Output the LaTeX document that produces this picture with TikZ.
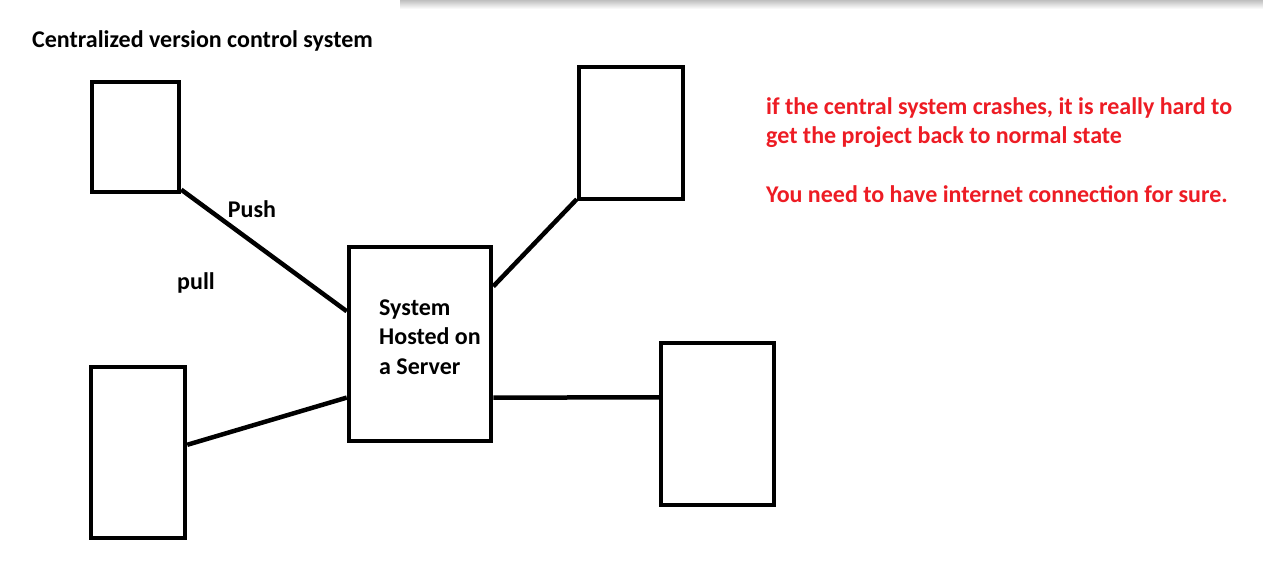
\documentclass[tikz,border=0pt]{standalone}
\usepackage{fontspec}
\setmainfont{Carlito}
\usetikzlibrary{positioning,calc}
\definecolor{notered}{RGB}{237,28,36}

\begin{document}
\begin{tikzpicture}[x=1pt,y=-1pt,
        box/.style={draw,line width=4.5pt,inner sep=0pt},
        link/.style={line width=4.5pt},
        lbl/.style={font=\fontsize{24}{29.5}\selectfont\bfseries,inner sep=0pt}]
        \useasboundingbox (0,0) rectangle (1263,582);
        % window shadow along the top
        \shade[top color=black!25,bottom color=white] (400,0) rectangle (1263,9);

        \node [lbl,anchor=west] (title) at (32,41) {Centralized version control system};

        \node [box,minimum width=87,minimum height=110] (tl) at (135.5,137) {};
        \node [box,minimum width=104,minimum height=132] (tr) at (631,133) {};
        \node [box,minimum width=142,minimum height=194] (server) at (420,344) {};
        \node [box,minimum width=94,minimum height=171] (bl) at (138,452.5) {};
        \node [box,minimum width=113,minimum height=162] (br) at (717.5,424) {};

        \node [lbl,align=left,anchor=west] (srvtext) at (379,337) {System\\Hosted on\\a Server};
        \node [lbl] (push) at (252,209) {Push};
        \node [lbl] (pull) at (196,283) {pull};

        \node [lbl,text=notered,align=left,anchor=north west] (note) at (766,97)
            {if the central system crashes, it is really hard to\\get the project back to normal state\\[29.5pt]You need to have internet connection for sure.};

        \draw [link] ($(tl.north east)!0.96!(tl.south east)$) -- ($(server.north west)!0.335!(server.south west)$);
        \draw [link] ($(server.north east)!0.21!(server.south east)$) -- ($(tr.north west)!0.985!(tr.south west)$);
        \draw [link] ($(bl.north east)!0.456!(bl.south east)$) -- ($(server.north west)!0.77!(server.south west)$);
        \draw [link] ($(server.north east)!0.77!(server.south east)$) -- ($(br.north west)!0.34!(br.south west)$);
    \end{tikzpicture}
\end{document}
